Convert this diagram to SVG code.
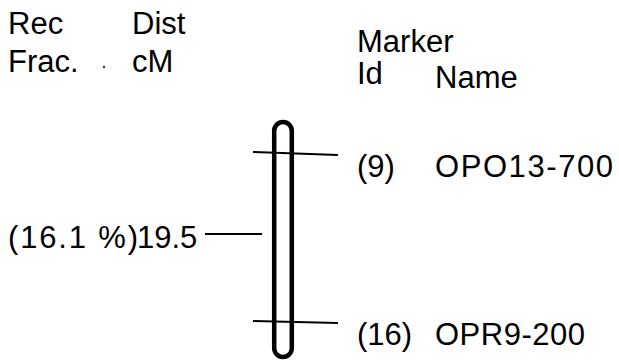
<svg xmlns="http://www.w3.org/2000/svg" width="619" height="362" viewBox="0 0 619 362">
<style>
text{font-family:"Liberation Sans",Arial,sans-serif;font-size:31px;fill:#000}
.tick{stroke:#000;stroke-width:2;fill:none}
.chrom{stroke:#000;stroke-width:4.5;fill:none}
</style>
<rect width="619" height="362" fill="#fff"/>
<g id="headers">
<text x="8" y="34">Rec</text>
<text x="8" y="72">Frac.</text>
<circle cx="104" cy="67" r="1.2" fill="#333"/>
<text x="132" y="34">Dist</text>
<text x="132" y="72">cM</text>
<text x="357" y="52">Marker</text>
<text x="357" y="84">Id</text>
<text x="435" y="88">Name</text>
</g>
<g id="chromosome">
<rect class="chrom" x="274.2" y="122" width="17.6" height="235" rx="8.8"/>
</g>
<g id="connectors">
<line class="tick" x1="253" y1="152" x2="338" y2="155"/>
<line class="tick" x1="205" y1="234" x2="262" y2="234"/>
<line class="tick" x1="253" y1="321" x2="338" y2="323"/>
</g>
<g id="marker-9">
<text x="357" y="177">(9)</text>
<text x="435" y="177" textLength="178" lengthAdjust="spacing">OPO13-700</text>
</g>
<g id="marker-16">
<text x="357" y="345">(16)</text>
<text x="435" y="345" textLength="150" lengthAdjust="spacing">OPR9-200</text>
</g>
<g id="position">
<text x="8" y="248" textLength="130" lengthAdjust="spacing">(16.1 %)</text>
<text x="137" y="248">19.5</text>
</g>
</svg>
